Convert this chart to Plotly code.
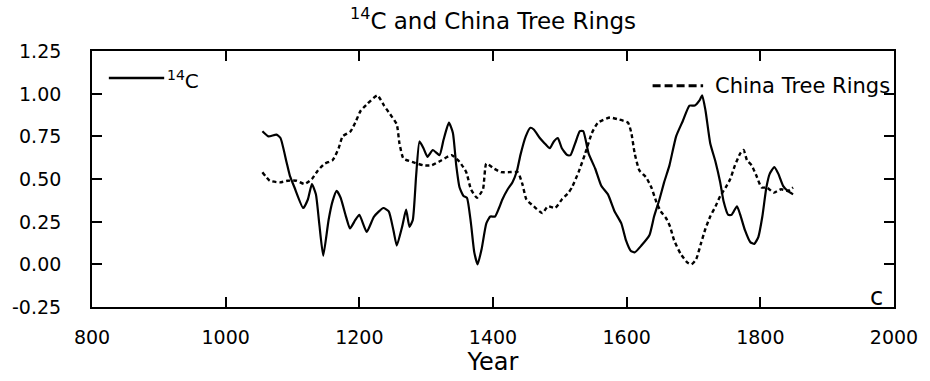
import plotly.graph_objects as go

# ---- data ----
c14_years = [1055, 1064, 1076, 1082, 1091, 1096, 1103, 1116, 1123, 1129, 1135, 1140, 1146, 1154, 1160,
             1166, 1172, 1180, 1186, 1194, 1200, 1211, 1222, 1236, 1244, 1251, 1256, 1264, 1270, 1275,
             1280, 1285, 1290, 1296, 1302, 1310, 1320, 1326, 1334, 1340, 1345, 1350, 1356, 1361, 1367,
             1372, 1377, 1383, 1390, 1396, 1403, 1409, 1414, 1422, 1429, 1436, 1441, 1449, 1456, 1461,
             1470, 1477, 1485, 1491, 1497, 1503, 1511, 1516, 1523, 1530, 1535, 1543, 1553, 1562, 1572,
             1582, 1592, 1599, 1606, 1612, 1622, 1634, 1641, 1649, 1656, 1664, 1674, 1684, 1694, 1702,
             1709, 1713, 1718, 1725, 1733, 1740, 1745, 1752, 1757, 1765, 1770, 1777, 1785, 1791, 1797,
             1803, 1809, 1814, 1821, 1827, 1834, 1841, 1849]
c14_values = [0.78, 0.75, 0.76, 0.74, 0.60, 0.52, 0.45, 0.33, 0.38, 0.47, 0.41, 0.24, 0.05, 0.26, 0.37,
              0.43, 0.39, 0.28, 0.21, 0.26, 0.29, 0.19, 0.28, 0.33, 0.31, 0.20, 0.11, 0.22, 0.32, 0.22,
              0.26, 0.52, 0.72, 0.68, 0.63, 0.67, 0.64, 0.73, 0.83, 0.77, 0.58, 0.45, 0.40, 0.39, 0.24,
              0.07, 0.00, 0.09, 0.24, 0.28, 0.28, 0.33, 0.38, 0.44, 0.48, 0.55, 0.64, 0.75, 0.80, 0.79,
              0.74, 0.71, 0.68, 0.72, 0.74, 0.68, 0.64, 0.64, 0.71, 0.78, 0.78, 0.65, 0.56, 0.46, 0.41,
              0.31, 0.24, 0.14, 0.08, 0.07, 0.11, 0.17, 0.28, 0.38, 0.48, 0.58, 0.75, 0.84, 0.93, 0.93,
              0.96, 0.99, 0.90, 0.71, 0.60, 0.48, 0.37, 0.29, 0.29, 0.34, 0.29, 0.20, 0.13, 0.12, 0.16,
              0.28, 0.45, 0.53, 0.57, 0.53, 0.46, 0.43, 0.41]

tree_years = [1055, 1066, 1081, 1093, 1106, 1118, 1129, 1138, 1148, 1160, 1169, 1175, 1187, 1195, 1202,
              1212, 1227, 1237, 1246, 1256, 1260, 1266, 1279, 1296, 1308, 1323, 1338, 1350, 1360, 1367,
              1376, 1385, 1390, 1402, 1412, 1424, 1437, 1444, 1450, 1461, 1474, 1482, 1493, 1503, 1513,
              1518, 1528, 1538, 1548, 1557, 1575, 1587, 1602, 1607, 1612, 1619, 1629, 1637, 1644, 1651,
              1659, 1665, 1671, 1681, 1691, 1697, 1704, 1711, 1718, 1725, 1733, 1740, 1748, 1755, 1762,
              1770, 1775, 1780, 1787, 1794, 1802, 1810, 1820, 1831, 1841, 1849]
tree_values = [0.54, 0.49, 0.48, 0.49, 0.49, 0.47, 0.50, 0.55, 0.59, 0.61, 0.68, 0.75, 0.78, 0.84, 0.90,
               0.94, 0.99, 0.93, 0.88, 0.82, 0.71, 0.62, 0.60, 0.58, 0.58, 0.61, 0.64, 0.60, 0.54, 0.44,
               0.39, 0.44, 0.59, 0.56, 0.54, 0.54, 0.54, 0.47, 0.38, 0.34, 0.30, 0.34, 0.33, 0.38, 0.42,
               0.45, 0.54, 0.65, 0.77, 0.83, 0.86, 0.85, 0.83, 0.77, 0.65, 0.55, 0.51, 0.45, 0.37, 0.31,
               0.27, 0.22, 0.14, 0.06, 0.01, 0.00, 0.03, 0.12, 0.21, 0.28, 0.34, 0.40, 0.45, 0.50, 0.58,
               0.65, 0.67, 0.61, 0.58, 0.52, 0.45, 0.45, 0.42, 0.44, 0.43, 0.45]

x_tick_values = [800, 1000, 1200, 1400, 1600, 1800, 2000]
x_tick_labels = ["800", "1000", "1200", "1400", "1600", "1800", "2000"]
y_tick_values = [-0.25, 0.0, 0.25, 0.5, 0.75, 1.0, 1.25]
y_tick_labels = ["-0.25", "0.00", "0.25", "0.50", "0.75", "1.00", "1.25"]

FONT = "DejaVu Sans"

fig = go.Figure()
fig.add_trace(go.Scatter(x=c14_years, y=c14_values, mode="lines", name="14C",
                         line=dict(color="black", width=2.2, shape="spline", smoothing=0.5)))
fig.add_trace(go.Scatter(x=tree_years, y=tree_values, mode="lines", name="China Tree Rings",
                         line=dict(color="black", width=2.4, dash="4px,3px", shape="spline", smoothing=0.5)))

axis_common = dict(showline=True, linewidth=2, linecolor="black", mirror="allticks",
                   ticks="inside", ticklen=10, tickwidth=2, tickcolor="black",
                   showgrid=False, zeroline=False,
                   tickfont=dict(family=FONT, size=19, color="black"))

fig.update_xaxes(range=[800, 2000], tickmode="array", tickvals=x_tick_values, ticktext=x_tick_labels,
                 ticklabelstandoff=12,
                 title=dict(text="Year", font=dict(family=FONT, size=24, color="black"), standoff=4),
                 **axis_common)
fig.update_yaxes(range=[-0.25, 1.25], tickmode="array", tickvals=y_tick_values,
                 showticklabels=False, **axis_common)

# y tick labels: placed on the y scale, well left of the frame as in the reference
for v, t in zip(y_tick_values, y_tick_labels):
    fig.add_annotation(xref="paper", yref="y", x=-0.037, y=v, xanchor="right", yanchor="middle",
                       text=t, showarrow=False, borderpad=0,
                       font=dict(family=FONT, size=19, color="black"))

# legend samples and labels
fig.add_shape(type="line", xref="paper", yref="paper", x0=0.021, x1=0.090, y0=0.895, y1=0.895,
              line=dict(color="black", width=2.5))
fig.add_shape(type="line", xref="paper", yref="paper", x0=0.699, x1=0.762, y0=0.864, y1=0.864,
              line=dict(color="black", width=3, dash="8px,4px"))
fig.add_annotation(xref="paper", yref="paper", x=0.091, y=0.885, xanchor="left", yanchor="middle",
                   text="<sup>14</sup>C", showarrow=False,
                   font=dict(family=FONT, size=20, color="black"))
fig.add_annotation(xref="paper", yref="paper", x=0.774, y=0.864, xanchor="left", yanchor="middle",
                   text="China Tree Rings", showarrow=False,
                   font=dict(family=FONT, size=21, color="black"))
fig.add_annotation(xref="paper", yref="paper", x=0.978, y=0.04, xanchor="center", yanchor="middle",
                   text="c", showarrow=False,
                   font=dict(family=FONT, size=24, color="black"))

fig.update_layout(
    width=930, height=381,
    margin=dict(l=92, r=28, t=51, b=65),
    paper_bgcolor="white", plot_bgcolor="white",
    showlegend=False,
    title=dict(text="<sup>14</sup>C and China Tree Rings", x=0.5, xref="paper", xanchor="center",
               y=1 - 21 / 381, yref="container", yanchor="middle",
               font=dict(family=FONT, size=23, color="black")),
    font=dict(family=FONT, color="black"),
)

fig.write_html("out.html")
